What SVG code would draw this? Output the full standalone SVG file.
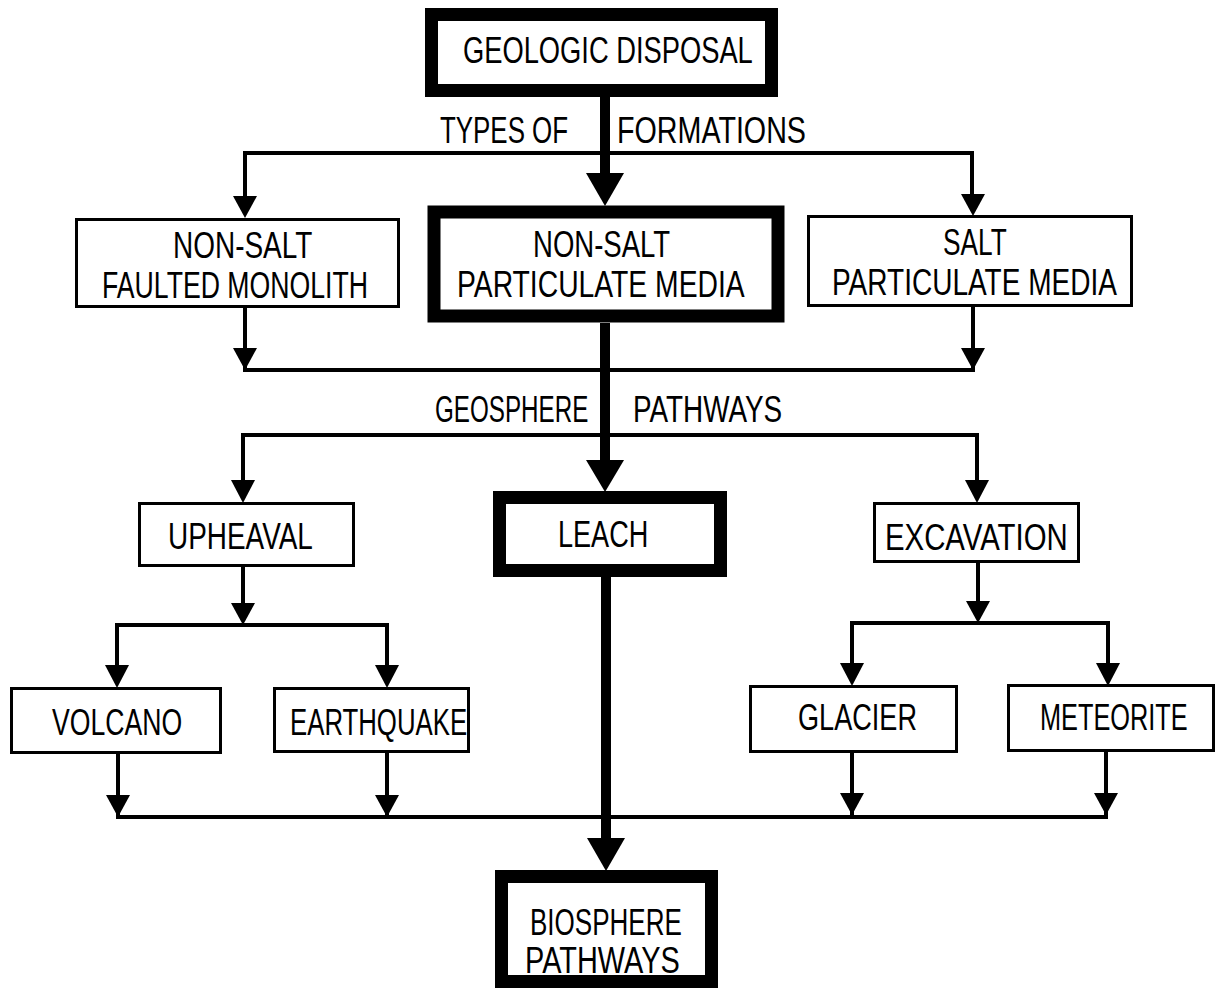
<svg xmlns="http://www.w3.org/2000/svg" width="1216" height="988" viewBox="0 0 1216 988">
<style>
  text { font-family: "Liberation Sans", Arial, sans-serif; font-size: 37px; fill: #000; }
  .thin { fill: #fff; stroke: #000; stroke-width: 3; }
  .thick { fill: #fff; stroke: #000; stroke-width: 13; }
  .ln { fill: none; stroke: #000; stroke-width: 4; }
  .tk { fill: none; stroke: #000; stroke-width: 10; }
  .ah { fill: #000; }
</style>
<rect width="1216" height="988" fill="#fff"/>
<g id="connectors">
  <line class="tk" x1="605" y1="97" x2="605" y2="176"/>
  <polygon class="ah" points="586,173 624,173 605,206"/>
  <path class="ln" d="M245,200 V153 H972 V198"/>
  <polygon class="ah" points="233,196 257,196 245,218"/>
  <polygon class="ah" points="961,194 985,194 973,216"/>
  <path class="ln" d="M245,308 V370 H973 V307"/>
  <polygon class="ah" points="233,348 257,348 245,370"/>
  <polygon class="ah" points="961,348 985,348 973,370"/>
  <line class="tk" x1="605" y1="323" x2="605" y2="464"/>
  <polygon class="ah" points="586,460 624,460 605,492"/>
  <path class="ln" d="M243,482 V435 H977 V482"/>
  <polygon class="ah" points="231,480 255,480 243,503"/>
  <polygon class="ah" points="965,480 989,480 977,503"/>
  <line class="ln" x1="243" y1="567" x2="243" y2="605"/>
  <polygon class="ah" points="231,603 255,603 243,625"/>
  <path class="ln" d="M117,668 V625 H387 V668"/>
  <polygon class="ah" points="105,665 129,665 117,688"/>
  <polygon class="ah" points="375,665 399,665 387,688"/>
  <line class="ln" x1="978" y1="563" x2="978" y2="603"/>
  <polygon class="ah" points="966,601 990,601 978,623"/>
  <path class="ln" d="M852,666 V623 H1108 V666"/>
  <polygon class="ah" points="840,663 864,663 852,686"/>
  <polygon class="ah" points="1096,663 1120,663 1108,686"/>
  <path class="ln" d="M118,754 V817 H1106 V752"/>
  <line class="ln" x1="387" y1="753" x2="387" y2="817"/>
  <line class="ln" x1="852" y1="753" x2="852" y2="817"/>
  <polygon class="ah" points="106,795 130,795 118,817"/>
  <polygon class="ah" points="375,795 399,795 387,817"/>
  <polygon class="ah" points="840,793 864,793 852,815"/>
  <polygon class="ah" points="1094,793 1118,793 1106,815"/>
  <line class="tk" x1="606" y1="577" x2="606" y2="842"/>
  <polygon class="ah" points="587,838 625,838 606,871"/>
</g>
<g id="geologic-disposal">
  <rect class="thick" x="431.5" y="14.5" width="340" height="76"/>
  <text transform="translate(463,63) scale(0.7,1)" textLength="414" lengthAdjust="spacingAndGlyphs">GEOLOGIC DISPOSAL</text>
</g>
<g id="label-types">
  <text transform="translate(440,143) scale(0.7,1)" textLength="183" lengthAdjust="spacingAndGlyphs">TYPES OF</text>
  <text transform="translate(617,143) scale(0.7,1)" textLength="270" lengthAdjust="spacingAndGlyphs">FORMATIONS</text>
</g>
<g id="non-salt-faulted">
  <rect class="thin" x="76.5" y="219.5" width="322" height="87"/>
  <text transform="translate(173,258) scale(0.7,1)" textLength="199" lengthAdjust="spacingAndGlyphs">NON-SALT</text>
  <text transform="translate(102,298) scale(0.7,1)" textLength="380" lengthAdjust="spacingAndGlyphs">FAULTED MONOLITH</text>
</g>
<g id="non-salt-particulate">
  <rect class="thick" x="434" y="212" width="344" height="104" stroke-width="14"/>
  <text transform="translate(533,257) scale(0.7,1)" textLength="196" lengthAdjust="spacingAndGlyphs">NON-SALT</text>
  <text transform="translate(457,297) scale(0.7,1)" textLength="411" lengthAdjust="spacingAndGlyphs">PARTICULATE MEDIA</text>
</g>
<g id="salt-particulate">
  <rect class="thin" x="808.5" y="216.5" width="323" height="89"/>
  <text transform="translate(943,255) scale(0.7,1)" textLength="91" lengthAdjust="spacingAndGlyphs">SALT</text>
  <text transform="translate(832,295) scale(0.7,1)" textLength="407" lengthAdjust="spacingAndGlyphs">PARTICULATE MEDIA</text>
</g>
<g id="label-geosphere">
  <text transform="translate(435,422) scale(0.7,1)" textLength="219" lengthAdjust="spacingAndGlyphs">GEOSPHERE</text>
  <text transform="translate(633,422) scale(0.7,1)" textLength="213" lengthAdjust="spacingAndGlyphs">PATHWAYS</text>
</g>
<g id="upheaval">
  <rect class="thin" x="139.5" y="503.5" width="214" height="62"/>
  <text transform="translate(168,549) scale(0.7,1)" textLength="207" lengthAdjust="spacingAndGlyphs">UPHEAVAL</text>
</g>
<g id="leach">
  <rect class="thick" x="499.5" y="497.5" width="221" height="73"/>
  <text transform="translate(558,547) scale(0.7,1)" textLength="129" lengthAdjust="spacingAndGlyphs">LEACH</text>
</g>
<g id="excavation">
  <rect class="thin" x="874.5" y="503.5" width="204" height="58"/>
  <text transform="translate(885,550) scale(0.7,1)" textLength="261" lengthAdjust="spacingAndGlyphs">EXCAVATION</text>
</g>
<g id="volcano">
  <rect class="thin" x="11.5" y="688.5" width="209" height="64"/>
  <text transform="translate(52,735) scale(0.7,1)" textLength="186" lengthAdjust="spacingAndGlyphs">VOLCANO</text>
</g>
<g id="earthquake">
  <rect class="thin" x="274.5" y="688.5" width="194" height="63"/>
  <text transform="translate(290,735) scale(0.7,1)" textLength="253" lengthAdjust="spacingAndGlyphs">EARTHQUAKE</text>
</g>
<g id="glacier">
  <rect class="thin" x="750.5" y="686.5" width="206" height="65"/>
  <text transform="translate(798,730) scale(0.7,1)" textLength="170" lengthAdjust="spacingAndGlyphs">GLACIER</text>
</g>
<g id="meteorite">
  <rect class="thin" x="1008.5" y="685.5" width="205" height="65"/>
  <text transform="translate(1040,730) scale(0.7,1)" textLength="211" lengthAdjust="spacingAndGlyphs">METEORITE</text>
</g>
<g id="biosphere-pathways">
  <rect class="thick" x="501.5" y="876.5" width="210" height="105"/>
  <text transform="translate(530,935) scale(0.7,1)" textLength="217" lengthAdjust="spacingAndGlyphs">BIOSPHERE</text>
  <text transform="translate(525,973) scale(0.7,1)" textLength="221" lengthAdjust="spacingAndGlyphs">PATHWAYS</text>
</g>
</svg>
